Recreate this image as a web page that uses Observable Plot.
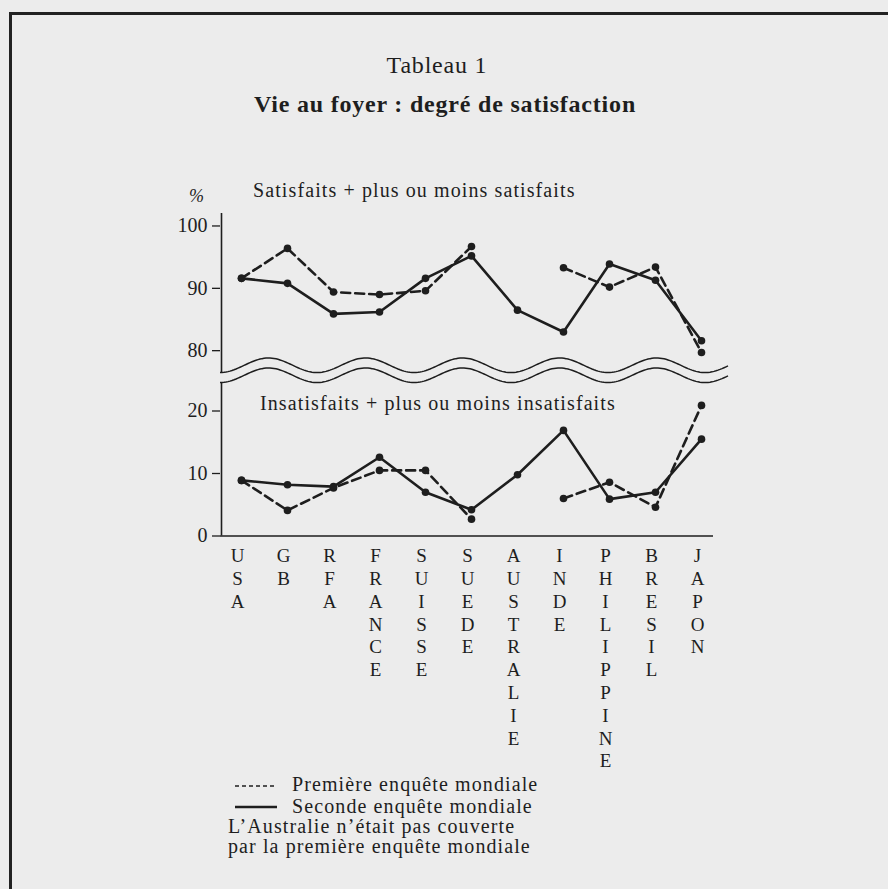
<!DOCTYPE html>
<html>
<head>
<meta charset="utf-8">
<script src="https://cdn.jsdelivr.net/npm/d3@7"></script>
<script src="https://cdn.jsdelivr.net/npm/@observablehq/plot@0.6"></script>
<style>
  html, body { margin: 0; padding: 0; background: #ececec; }
  #page { position: relative; width: 888px; height: 889px; overflow: hidden; background: #ececec; color: #1e1e1e; }
  .abs { position: absolute; white-space: nowrap; font-family: "Liberation Serif", serif; color: #1e1e1e; }
  .body { font-size: 20px; line-height: 20px; letter-spacing: 1.1px; }
  svg.layer { position: absolute; left: 0; top: 0; }
</style>
</head>
<body>
<div id="page">
  <div class="abs" style="left:9px;top:12px;width:900px;height:900px;border-left:3px solid #222;border-top:3px solid #222;"></div>
  <div class="abs" style="left:237px;top:53px;width:400px;text-align:center;font-size:24px;line-height:24px;letter-spacing:0.8px;">Tableau 1</div>
  <div class="abs" style="left:145px;top:92px;width:600px;text-align:center;font-size:24px;line-height:24px;font-weight:bold;letter-spacing:0.8px;">Vie au foyer : degré de satisfaction</div>
  <div class="abs body" style="left:253px;top:180px;">Satisfaits + plus ou moins satisfaits</div>
  <div class="abs" style="left:189px;top:187px;font-size:18px;line-height:18px;font-style:italic;">%</div>
  <div class="abs body" style="left:260px;top:393px;">Insatisfaits + plus ou moins insatisfaits</div>
  <svg class="abs" style="left:0;top:0;" width="888" height="889" id="legendLines"></svg>
  <div class="abs body" style="left:292px;top:774px;">Première enquête mondiale</div>
  <div class="abs body" style="left:292px;top:796px;">Seconde enquête mondiale</div>
  <div class="abs body" style="left:228px;top:816px;">L’Australie n’était pas couverte</div>
  <div class="abs body" style="left:228px;top:836px;">par la première enquête mondiale</div>
</div>
<script>
// ---- data ----
const countries = ["USA","GB","RFA","FRANCE","SUISSE","SUEDE","AUSTRALIE","INDE","PHILIPPINE","BRESIL","JAPON"];
const satisfaitsPremiere = [91.6, 96.4, 89.4, 89.0, 89.6, 96.7, null, 93.3, 90.2, 93.4, 79.7];
const satisfaitsSeconde  = [91.6, 90.8, 85.9, 86.2, 91.6, 95.2, 86.5, 83.0, 93.9, 91.3, 81.6];
const insatisfaitsPremiere = [8.9, 4.1, 7.7, 10.5, 10.5, 2.7, null, 6.0, 8.6, 4.6, 20.9];
const insatisfaitsSeconde  = [8.9, 8.2, 7.9, 12.6, 7.0, 4.2, 9.8, 16.9, 5.9, 7.0, 15.5];
const ticksHaut = [80, 90, 100];
const ticksBas = [0, 10, 20];
const series = ["Première enquête mondiale", "Seconde enquête mondiale"];

const ink = "#1e1e1e";
const W = 888, H = 889;
const mL = 220, mR = 175, inL = 20, inR = 11;

function rows(a, b) {
  const out = [];
  countries.forEach((c, i) => {
    out.push({country: c, survey: series[0], value: a[i]});
    out.push({country: c, survey: series[1], value: b[i]});
  });
  return out;
}
const topRows = rows(satisfaitsPremiere, satisfaitsSeconde);
const botRows = rows(insatisfaitsPremiere, insatisfaitsSeconde);

const style = {fontFamily: "Liberation Serif", fontSize: "19px", background: "transparent", color: ink, overflow: "visible"};
const xScale = {type: "point", domain: countries, padding: 0, insetLeft: inL, insetRight: inR, axis: null};

function panelMarks(data, ticks) {
  return [
    Plot.ruleX([countries[0]], {dx: -inL, stroke: ink, strokeWidth: 1.6}),
    Plot.axisY({ticks, label: null, tickSize: 8, tickPadding: 5, stroke: ink, strokeWidth: 1.3, fill: ink, fontSize: 20}),
    Plot.line(data.filter(d => d.survey === series[0]), {x: "country", y: "value", stroke: ink, strokeWidth: 2.6, strokeDasharray: "9,5"}),
    Plot.line(data.filter(d => d.survey === series[1]), {x: "country", y: "value", stroke: ink, strokeWidth: 2.6}),
    Plot.dot(data, {x: "country", y: "value", r: 3.8, fill: ink})
  ];
}

const topPlot = Plot.plot({
  width: W, height: 400,
  marginTop: 213, marginBottom: 28, marginLeft: mL, marginRight: mR,
  style,
  x: xScale,
  y: {domain: [76.5, 102], axis: null, label: null},
  marks: panelMarks(topRows, ticksHaut)
});

const botPlot = Plot.plot({
  width: W, height: H,
  marginTop: 383, marginBottom: H - 535.5, marginLeft: mL, marginRight: mR,
  style,
  x: xScale,
  y: {domain: [0, 24.4], axis: null, label: null},
  marks: [
    Plot.ruleY([0], {stroke: ink, strokeWidth: 1.6}),
    ...panelMarks(botRows, ticksBas),
    Plot.text(countries, {x: d => d, frameAnchor: "bottom", text: d => Array.from(d).join("\n"),
      lineAnchor: "top", dy: 10, dx: -4, fontSize: 19, lineHeight: 1.2, fill: ink})
  ]
});

topPlot.classList.add("layer");
botPlot.classList.add("layer");
topPlot.style.position = "absolute"; topPlot.style.left = "0"; topPlot.style.top = "0";
botPlot.style.position = "absolute"; botPlot.style.left = "0"; botPlot.style.top = "0";
const page = document.getElementById("page");
page.appendChild(topPlot);
page.appendChild(botPlot);

// axis-break symbol (decoration): two parallel wavy lines between the panels
const waveX = d3.range(mL, 728.5, 2);
const waveLine = d3.line().x(d => d[0]).y(d => d[1]);
[365.3, 375.3].forEach(cy => {
  d3.select(topPlot).append("path")
    .attr("d", waveLine(waveX.map(x => [x, cy + 7.3 * Math.cos(2 * Math.PI * (x - mL) / 97)])))
    .attr("fill", "none").attr("stroke", ink).attr("stroke-width", 1.5);
});

// legend samples
const lg = d3.select("#legendLines");
lg.append("line").attr("x1", 235).attr("x2", 277).attr("y1", 786).attr("y2", 786)
  .attr("stroke", ink).attr("stroke-width", 1.6).attr("stroke-dasharray", "4,3");
lg.append("line").attr("x1", 235).attr("x2", 277).attr("y1", 807).attr("y2", 807)
  .attr("stroke", ink).attr("stroke-width", 2.4);
</script>
</body>
</html>
